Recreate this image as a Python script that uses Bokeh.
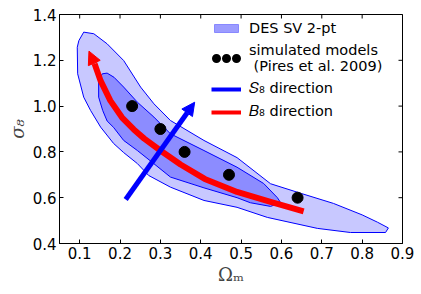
import math
from bokeh.plotting import figure
from bokeh.models import (Range1d, FixedTicker, Arrow, NormalHead, Legend, LegendItem)
from bokeh.embed import file_html
from bokeh.resources import INLINE

nan = float("nan")

# 2-sigma (outer) contour of DES SV 2-pt
outer_om = [0.094, 0.098, 0.110, 0.135, 0.168, 0.209, 0.251, 0.284, 0.325, 0.408,
            0.490, 0.573, 0.589, 0.650, 0.729, 0.800, 0.838, 0.865, 0.858, 0.771,
            0.689, 0.565, 0.490, 0.408, 0.325, 0.271, 0.243, 0.209, 0.184, 0.152,
            0.127, 0.110, 0.095]
outer_s8 = [1.257, 1.286, 1.323, 1.316, 1.272, 1.199, 1.083, 1.010, 0.937, 0.850,
            0.775, 0.661, 0.652, 0.618, 0.575, 0.525, 0.493, 0.468, 0.448, 0.448,
            0.466, 0.514, 0.558, 0.588, 0.646, 0.697, 0.749, 0.797, 0.837, 0.908,
            0.981, 1.039, 1.141]

# 1-sigma (inner) contour
inner_om = [0.147, 0.156, 0.168, 0.185, 0.209, 0.243, 0.284, 0.325, 0.408, 0.490,
            0.556, 0.590, 0.598, 0.573, 0.523, 0.490, 0.408, 0.325, 0.280, 0.243,
            0.209, 0.184, 0.168, 0.157, 0.147]
inner_s8 = [1.112, 1.141, 1.144, 1.126, 1.083, 1.017, 0.952, 0.879, 0.806, 0.733,
            0.662, 0.600, 0.578, 0.562, 0.578, 0.600, 0.643, 0.690, 0.754, 0.806,
            0.850, 0.907, 0.935, 0.981, 1.039]

# simulated models (Pires et al. 2009)
model_om = [0.23, 0.30, 0.36, 0.47, 0.64]
model_s8 = [1.00, 0.90, 0.80, 0.70, 0.60]

# S8 direction arrow (start, end)
s8dir_om = [0.214, 0.385]
s8dir_s8 = [0.592, 1.017]

# B8 direction curve (last point = arrow tip)
b8_om = [0.655, 0.573, 0.490, 0.410, 0.350, 0.300, 0.260, 0.234, 0.205, 0.176, 0.152, 0.137, 0.123]
b8_s8 = [0.540, 0.582, 0.625, 0.682, 0.745, 0.806, 0.858, 0.898, 0.950, 1.024, 1.110, 1.185, 1.240]

x_range = (0.05, 0.9)
y_range = (0.4, 1.4)
x_ticks = [0.1, 0.2, 0.3, 0.4, 0.5, 0.6, 0.7, 0.8, 0.9]
y_ticks = [0.4, 0.6, 0.8, 1.0, 1.2, 1.4]
x_tick_labels = ["0.1", "0.2", "0.3", "0.4", "0.5", "0.6", "0.7", "0.8", "0.9"]
y_tick_labels = ["0.4", "0.6", "0.8", "1.0", "1.2", "1.4"]

legend_labels = ["DES SV 2-pt", "simulated models\n (Pires et al. 2009)",
                 "𝑆₈ direction", "𝐵₈ direction"]

FONT = "DejaVu Sans"
FS = "14.5px"

p = figure(width=421, height=294,
           x_range=Range1d(*x_range), y_range=Range1d(*y_range),
           output_backend="svg", toolbar_location=None,
           min_border_left=59, min_border_right=19, min_border_top=14, min_border_bottom=51,
           x_axis_label="Ωₘ", y_axis_label="σ₈")
p.grid.visible = False
p.outline_line_color = "black"
p.outline_line_width = 1
p.background_fill_color = "white"
p.border_fill_color = "white"


def style_axis(ax, ticks, labels):
    ax.ticker = FixedTicker(ticks=ticks)
    ax.major_label_overrides = {t: l for t, l in zip(ticks, labels)}
    ax.major_tick_in = 4
    ax.major_tick_out = 0
    ax.minor_tick_in = 0
    ax.minor_tick_out = 0
    ax.axis_line_color = "black"
    ax.major_tick_line_color = "black"
    ax.major_label_text_font = FONT
    ax.major_label_text_color = "black"
    ax.major_label_text_font_size = "15px"
    ax.major_label_standoff = 3


style_axis(p.xaxis[0], x_ticks, x_tick_labels)
style_axis(p.yaxis[0], y_ticks, y_tick_labels)
p.xaxis[0].axis_label_text_font = "DejaVu Serif"
p.xaxis[0].axis_label_text_font_size = "18px"
p.xaxis[0].axis_label_text_font_style = "normal"
p.xaxis[0].axis_label_standoff = 2
p.yaxis[0].axis_label_text_font = "DejaVu Serif"
p.yaxis[0].axis_label_text_font_size = "18px"
p.yaxis[0].axis_label_text_font_style = "italic"
p.yaxis[0].axis_label_standoff = 2

# inward ticks on the top and right edges of the frame (clipped to the frame)
p.scatter(x_ticks, [y_range[1]] * len(x_ticks), marker="dash", angle=math.pi / 2,
          size=8, line_color="black", line_width=1)
p.scatter([x_range[1]] * len(y_ticks), y_ticks, marker="dash", angle=0,
          size=8, line_color="black", line_width=1)

# contours
p.patch(outer_om, outer_s8, fill_color="#c8c8ff", line_color="#0000ff", line_width=1)
p.patch(inner_om, inner_s8, fill_color="#8c8cff", line_color="#0000ff", line_width=1)

# B8 direction
p.line(b8_om[:-1], b8_s8[:-1], line_color="#ff0000", line_width=6, line_join="round")
p.add_layout(Arrow(x_start=b8_om[-2], y_start=b8_s8[-2], x_end=b8_om[-1], y_end=b8_s8[-1],
                   line_color="#ff0000", line_width=6,
                   end=NormalHead(size=13, fill_color="#ff0000", line_color="#ff0000", line_width=1)))

# S8 direction
p.add_layout(Arrow(x_start=s8dir_om[0], y_start=s8dir_s8[0], x_end=s8dir_om[1], y_end=s8dir_s8[1],
                   line_color="#0000ff", line_width=5,
                   end=NormalHead(size=13, fill_color="#0000ff", line_color="#0000ff", line_width=1)))

# simulated models
p.scatter(model_om, model_s8, size=11, marker="circle", fill_color="black", line_color="black")

# legend proxies (not visible in the data area)
leg_patch = p.patch([nan, nan, nan], [nan, nan, nan], fill_color="#9c9cff",
                    line_color="#8888ff", line_width=1)
leg_dots = p.line([nan, nan], [nan, nan], line_color="black", line_width=9,
                  line_dash="0 10", line_dash_offset=5, line_cap="round")
leg_s8 = p.line([nan, nan], [nan, nan], line_color="#0000ff", line_width=4)
leg_b8 = p.line([nan, nan], [nan, nan], line_color="#ff0000", line_width=4)

legend = Legend(items=[LegendItem(label=legend_labels[0], renderers=[leg_patch]),
                       LegendItem(label=legend_labels[1], renderers=[leg_dots]),
                       LegendItem(label=legend_labels[2], renderers=[leg_s8]),
                       LegendItem(label=legend_labels[3], renderers=[leg_b8])],
                location=(152, 123), border_line_alpha=0, background_fill_alpha=0,
                padding=0, margin=0, spacing=6, glyph_width=30, glyph_height=10,
                label_standoff=8, label_text_font=FONT, label_text_font_size=FS,
                label_text_color="black")
p.add_layout(legend)

open("out.html", "w").write(file_html(p, INLINE))
